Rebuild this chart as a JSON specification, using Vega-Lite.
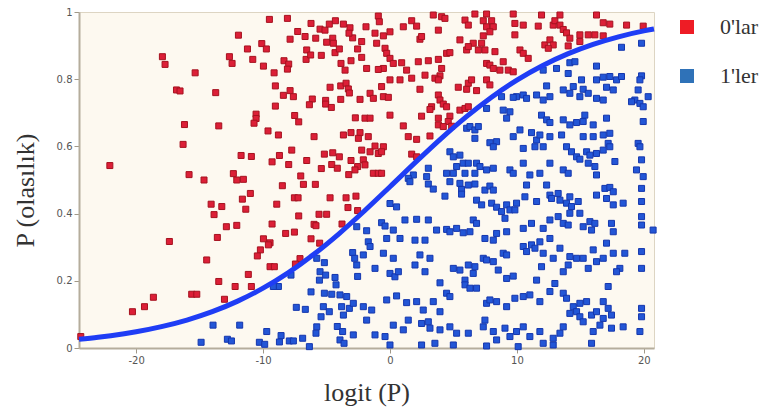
{
"$schema":"https://vega.github.io/schema/vega-lite/v6.json",
"width":575,"height":336,
"autosize":{"type":"none"},
"padding":{"left":79,"top":12,"right":114,"bottom":67},
"background":"#ffffff",
"config":{
"view":{"fill":"#fdf9f0","stroke":"#ddd5c3","strokeWidth":1},
"axis":{"labelFont":"DejaVu Sans","labelFontSize":10,"labelColor":"#555555","tickColor":"#a09888","tickSize":5,"domainColor":"#b5ad9c","domainWidth":2,"grid":false,"titleFont":"Liberation Serif","titleFontSize":26,"titleFontWeight":"normal","titleColor":"#333333","labelPadding":2}
},
"resolve":{"scale":{"fill":"independent","stroke":"independent"},"legend":{"fill":"independent"}},
"datasets":{
"pts":[
{"x":-9.50,"y":0.978,"g":"0'lar"},{"x":-8.08,"y":0.981,"g":"0'lar"},{"x":-6.22,"y":0.966,"g":"0'lar"},{"x":-11.94,"y":0.931,"g":"0'lar"},{"x":-7.27,"y":0.942,"g":"0'lar"},{"x":-6.69,"y":0.927,"g":"0'lar"},{"x":-7.87,"y":0.919,"g":"0'lar"},{"x":-5.85,"y":0.922,"g":"0'lar"},{"x":-5.51,"y":0.949,"g":"0'lar"},{"x":-5.12,"y":0.946,"g":"0'lar"},{"x":-4.78,"y":0.964,"g":"0'lar"},{"x":-4.30,"y":0.974,"g":"0'lar"},{"x":-3.67,"y":0.964,"g":"0'lar"},{"x":-3.15,"y":0.953,"g":"0'lar"},{"x":-2.94,"y":0.923,"g":"0'lar"},{"x":-3.23,"y":0.937,"g":"0'lar"},{"x":-4.51,"y":0.922,"g":"0'lar"},{"x":-4.99,"y":0.910,"g":"0'lar"},{"x":-4.46,"y":0.907,"g":"0'lar"},{"x":-11.23,"y":0.890,"g":"0'lar"},{"x":-10.10,"y":0.906,"g":"0'lar"},{"x":-9.74,"y":0.890,"g":"0'lar"},{"x":-6.56,"y":0.887,"g":"0'lar"},{"x":-6.61,"y":0.859,"g":"0'lar"},{"x":-6.25,"y":0.872,"g":"0'lar"},{"x":-5.41,"y":0.871,"g":"0'lar"},{"x":-4.33,"y":0.879,"g":"0'lar"},{"x":-3.99,"y":0.890,"g":"0'lar"},{"x":-2.55,"y":0.890,"g":"0'lar"},{"x":-3.07,"y":0.855,"g":"0'lar"},{"x":-3.86,"y":0.847,"g":"0'lar"},{"x":-3.54,"y":0.827,"g":"0'lar"},{"x":-17.93,"y":0.867,"g":"0'lar"},{"x":-17.72,"y":0.844,"g":"0'lar"},{"x":-12.65,"y":0.867,"g":"0'lar"},{"x":-12.44,"y":0.847,"g":"0'lar"},{"x":-10.81,"y":0.859,"g":"0'lar"},{"x":-9.97,"y":0.839,"g":"0'lar"},{"x":-9.13,"y":0.819,"g":"0'lar"},{"x":-8.35,"y":0.855,"g":"0'lar"},{"x":-7.98,"y":0.845,"g":"0'lar"},{"x":-8.08,"y":0.830,"g":"0'lar"},{"x":-15.35,"y":0.819,"g":"0'lar"},{"x":-16.82,"y":0.768,"g":"0'lar"},{"x":-16.54,"y":0.765,"g":"0'lar"},{"x":-13.73,"y":0.760,"g":"0'lar"},{"x":-9.03,"y":0.780,"g":"0'lar"},{"x":-7.87,"y":0.766,"g":"0'lar"},{"x":-8.40,"y":0.752,"g":"0'lar"},{"x":-7.61,"y":0.748,"g":"0'lar"},{"x":-6.12,"y":0.741,"g":"0'lar"},{"x":-6.35,"y":0.724,"g":"0'lar"},{"x":-5.07,"y":0.737,"g":"0'lar"},{"x":-5.07,"y":0.726,"g":"0'lar"},{"x":-4.62,"y":0.716,"g":"0'lar"},{"x":-4.72,"y":0.776,"g":"0'lar"},{"x":-3.88,"y":0.780,"g":"0'lar"},{"x":-3.46,"y":0.788,"g":"0'lar"},{"x":-3.28,"y":0.771,"g":"0'lar"},{"x":-3.20,"y":0.759,"g":"0'lar"},{"x":-3.88,"y":0.740,"g":"0'lar"},{"x":-9.03,"y":0.720,"g":"0'lar"},{"x":-10.55,"y":0.696,"g":"0'lar"},{"x":-10.55,"y":0.683,"g":"0'lar"},{"x":-10.71,"y":0.669,"g":"0'lar"},{"x":-7.51,"y":0.692,"g":"0'lar"},{"x":-7.19,"y":0.673,"g":"0'lar"},{"x":-2.73,"y":0.685,"g":"0'lar"},{"x":-16.19,"y":0.665,"g":"0'lar"},{"x":-13.49,"y":0.661,"g":"0'lar"},{"x":-9.61,"y":0.646,"g":"0'lar"},{"x":-8.79,"y":0.634,"g":"0'lar"},{"x":-5.98,"y":0.629,"g":"0'lar"},{"x":-3.67,"y":0.634,"g":"0'lar"},{"x":-3.07,"y":0.641,"g":"0'lar"},{"x":-16.30,"y":0.606,"g":"0'lar"},{"x":-22.07,"y":0.543,"g":"0'lar"},{"x":-11.73,"y":0.573,"g":"0'lar"},{"x":-10.92,"y":0.570,"g":"0'lar"},{"x":-8.71,"y":0.573,"g":"0'lar"},{"x":-7.74,"y":0.589,"g":"0'lar"},{"x":-9.29,"y":0.554,"g":"0'lar"},{"x":-7.98,"y":0.546,"g":"0'lar"},{"x":-6.56,"y":0.558,"g":"0'lar"},{"x":-5.17,"y":0.577,"g":"0'lar"},{"x":-4.51,"y":0.581,"g":"0'lar"},{"x":-3.99,"y":0.569,"g":"0'lar"},{"x":-4.59,"y":0.546,"g":"0'lar"},{"x":-4.15,"y":0.535,"g":"0'lar"},{"x":-5.41,"y":0.534,"g":"0'lar"},{"x":-3.07,"y":0.558,"g":"0'lar"},{"x":-15.83,"y":0.516,"g":"0'lar"},{"x":-14.65,"y":0.500,"g":"0'lar"},{"x":-12.34,"y":0.519,"g":"0'lar"},{"x":-11.55,"y":0.502,"g":"0'lar"},{"x":-7.03,"y":0.512,"g":"0'lar"},{"x":-3.25,"y":0.516,"g":"0'lar"},{"x":-2.55,"y":0.540,"g":"0'lar"},
{"x":-12.07,"y":0.500,"g":"0'lar"},{"x":-8.48,"y":0.483,"g":"0'lar"},{"x":-6.82,"y":0.487,"g":"0'lar"},{"x":-5.88,"y":0.487,"g":"0'lar"},{"x":-11.00,"y":0.460,"g":"0'lar"},{"x":-11.63,"y":0.443,"g":"0'lar"},{"x":-7.53,"y":0.447,"g":"0'lar"},{"x":-7.24,"y":0.447,"g":"0'lar"},{"x":-4.72,"y":0.447,"g":"0'lar"},{"x":-3.46,"y":0.447,"g":"0'lar"},{"x":-2.68,"y":0.452,"g":"0'lar"},{"x":-14.09,"y":0.428,"g":"0'lar"},{"x":-13.25,"y":0.421,"g":"0'lar"},{"x":-13.86,"y":0.397,"g":"0'lar"},{"x":-11.36,"y":0.413,"g":"0'lar"},{"x":-8.92,"y":0.428,"g":"0'lar"},{"x":-7.19,"y":0.393,"g":"0'lar"},{"x":-5.59,"y":0.398,"g":"0'lar"},{"x":-4.99,"y":0.398,"g":"0'lar"},{"x":-3.31,"y":0.418,"g":"0'lar"},{"x":-2.55,"y":0.409,"g":"0'lar"},{"x":-9.29,"y":0.369,"g":"0'lar"},{"x":-5.98,"y":0.368,"g":"0'lar"},{"x":-5.83,"y":0.364,"g":"0'lar"},{"x":-3.78,"y":0.369,"g":"0'lar"},{"x":-12.89,"y":0.361,"g":"0'lar"},{"x":-12.07,"y":0.365,"g":"0'lar"},{"x":-13.60,"y":0.329,"g":"0'lar"},{"x":-8.22,"y":0.341,"g":"0'lar"},{"x":-7.53,"y":0.345,"g":"0'lar"},{"x":-9.97,"y":0.325,"g":"0'lar"},{"x":-9.45,"y":0.313,"g":"0'lar"},{"x":-9.58,"y":0.307,"g":"0'lar"},{"x":-6.22,"y":0.325,"g":"0'lar"},{"x":-5.54,"y":0.312,"g":"0'lar"},{"x":-17.38,"y":0.317,"g":"0'lar"},{"x":-10.21,"y":0.292,"g":"0'lar"},{"x":-10.45,"y":0.274,"g":"0'lar"},{"x":-14.44,"y":0.262,"g":"0'lar"},{"x":-7.09,"y":0.266,"g":"0'lar"},{"x":-7.45,"y":0.250,"g":"0'lar"},{"x":-9.45,"y":0.242,"g":"0'lar"},{"x":-9.11,"y":0.242,"g":"0'lar"},{"x":-11.16,"y":0.219,"g":"0'lar"},{"x":-13.49,"y":0.198,"g":"0'lar"},{"x":-12.20,"y":0.183,"g":"0'lar"},{"x":-10.92,"y":0.183,"g":"0'lar"},{"x":-15.62,"y":0.160,"g":"0'lar"},{"x":-15.22,"y":0.160,"g":"0'lar"},{"x":-18.64,"y":0.151,"g":"0'lar"},{"x":-19.34,"y":0.123,"g":"0'lar"},{"x":-20.29,"y":0.108,"g":"0'lar"},{"x":-13.04,"y":0.145,"g":"0'lar"},{"x":-24.36,"y":0.034,"g":"0'lar"},
{"x":-0.92,"y":0.988,"g":"0'lar"},{"x":-0.84,"y":0.971,"g":"0'lar"},{"x":-1.89,"y":0.956,"g":"0'lar"},{"x":-1.18,"y":0.937,"g":"0'lar"},{"x":-0.52,"y":0.929,"g":"0'lar"},{"x":0.00,"y":0.941,"g":"0'lar"},{"x":1.05,"y":0.956,"g":"0'lar"},{"x":1.71,"y":0.974,"g":"0'lar"},{"x":2.10,"y":0.958,"g":"0'lar"},{"x":2.36,"y":0.919,"g":"0'lar"},{"x":2.49,"y":0.927,"g":"0'lar"},{"x":3.41,"y":0.991,"g":"0'lar"},{"x":4.07,"y":0.986,"g":"0'lar"},{"x":4.33,"y":0.981,"g":"0'lar"},{"x":3.81,"y":0.946,"g":"0'lar"},{"x":5.91,"y":0.976,"g":"0'lar"},{"x":6.17,"y":0.961,"g":"0'lar"},{"x":7.35,"y":0.974,"g":"0'lar"},{"x":7.61,"y":0.956,"g":"0'lar"},{"x":8.01,"y":0.974,"g":"0'lar"},{"x":8.14,"y":0.956,"g":"0'lar"},{"x":7.87,"y":0.941,"g":"0'lar"},{"x":7.35,"y":0.929,"g":"0'lar"},{"x":6.69,"y":0.994,"g":"0'lar"},{"x":7.61,"y":0.994,"g":"0'lar"},{"x":9.71,"y":0.994,"g":"0'lar"},{"x":9.84,"y":0.966,"g":"0'lar"},{"x":10.50,"y":0.961,"g":"0'lar"},{"x":9.84,"y":0.932,"g":"0'lar"},{"x":11.68,"y":0.958,"g":"0'lar"},{"x":11.94,"y":0.991,"g":"0'lar"},{"x":12.86,"y":0.961,"g":"0'lar"},{"x":12.99,"y":0.974,"g":"0'lar"},{"x":13.39,"y":0.961,"g":"0'lar"},{"x":13.65,"y":0.948,"g":"0'lar"},{"x":13.91,"y":0.938,"g":"0'lar"},{"x":14.17,"y":0.922,"g":"0'lar"},{"x":13.39,"y":0.991,"g":"0'lar"},{"x":16.27,"y":0.991,"g":"0'lar"},{"x":16.80,"y":0.968,"g":"0'lar"},{"x":17.32,"y":0.964,"g":"0'lar"},{"x":18.64,"y":0.961,"g":"0'lar"},{"x":19.95,"y":0.958,"g":"0'lar"},{"x":14.96,"y":0.932,"g":"0'lar"},{"x":15.62,"y":0.932,"g":"0'lar"},{"x":16.14,"y":0.932,"g":"0'lar"},{"x":16.80,"y":0.929,"g":"0'lar"},
{"x":-2.23,"y":0.912,"g":"0'lar"},{"x":-1.05,"y":0.907,"g":"0'lar"},{"x":-0.39,"y":0.892,"g":"0'lar"},{"x":-0.26,"y":0.877,"g":"0'lar"},{"x":0.00,"y":0.862,"g":"0'lar"},{"x":0.92,"y":0.849,"g":"0'lar"},{"x":0.26,"y":0.847,"g":"0'lar"},{"x":2.23,"y":0.852,"g":"0'lar"},{"x":3.02,"y":0.855,"g":"0'lar"},{"x":3.81,"y":0.859,"g":"0'lar"},{"x":4.07,"y":0.832,"g":"0'lar"},{"x":2.76,"y":0.812,"g":"0'lar"},{"x":1.31,"y":0.827,"g":"0'lar"},{"x":-0.52,"y":0.832,"g":"0'lar"},{"x":-0.92,"y":0.829,"g":"0'lar"},{"x":-2.23,"y":0.865,"g":"0'lar"},{"x":4.46,"y":0.877,"g":"0'lar"},{"x":4.72,"y":0.879,"g":"0'lar"},{"x":5.51,"y":0.917,"g":"0'lar"},{"x":6.04,"y":0.887,"g":"0'lar"},{"x":6.56,"y":0.907,"g":"0'lar"},{"x":7.22,"y":0.907,"g":"0'lar"},{"x":7.48,"y":0.887,"g":"0'lar"},{"x":8.27,"y":0.882,"g":"0'lar"},{"x":6.96,"y":0.887,"g":"0'lar"},{"x":6.17,"y":0.897,"g":"0'lar"},{"x":10.24,"y":0.887,"g":"0'lar"},{"x":10.50,"y":0.877,"g":"0'lar"},{"x":10.89,"y":0.862,"g":"0'lar"},{"x":12.20,"y":0.902,"g":"0'lar"},{"x":12.60,"y":0.917,"g":"0'lar"},{"x":12.86,"y":0.902,"g":"0'lar"},{"x":12.47,"y":0.892,"g":"0'lar"},{"x":14.04,"y":0.899,"g":"0'lar"},{"x":14.96,"y":0.912,"g":"0'lar"},{"x":7.61,"y":0.847,"g":"0'lar"},{"x":7.87,"y":0.842,"g":"0'lar"},{"x":8.14,"y":0.832,"g":"0'lar"},{"x":8.92,"y":0.852,"g":"0'lar"},{"x":8.66,"y":0.827,"g":"0'lar"},{"x":9.32,"y":0.827,"g":"0'lar"},{"x":9.71,"y":0.822,"g":"0'lar"},{"x":-1.84,"y":0.832,"g":"0'lar"},{"x":3.94,"y":0.810,"g":"0'lar"},
{"x":1.71,"y":0.803,"g":"0'lar"},{"x":3.54,"y":0.803,"g":"0'lar"},{"x":3.81,"y":0.798,"g":"0'lar"},{"x":5.38,"y":0.776,"g":"0'lar"},{"x":6.04,"y":0.770,"g":"0'lar"},{"x":6.17,"y":0.788,"g":"0'lar"},{"x":6.43,"y":0.798,"g":"0'lar"},{"x":6.82,"y":0.766,"g":"0'lar"},{"x":7.61,"y":0.798,"g":"0'lar"},{"x":7.87,"y":0.783,"g":"0'lar"},{"x":0.00,"y":0.798,"g":"0'lar"},{"x":0.79,"y":0.798,"g":"0'lar"},{"x":-0.66,"y":0.778,"g":"0'lar"},{"x":-1.57,"y":0.758,"g":"0'lar"},{"x":-1.31,"y":0.743,"g":"0'lar"},{"x":-0.52,"y":0.748,"g":"0'lar"},{"x":-0.13,"y":0.746,"g":"0'lar"},{"x":-2.36,"y":0.740,"g":"0'lar"},{"x":3.81,"y":0.753,"g":"0'lar"},{"x":3.94,"y":0.738,"g":"0'lar"},{"x":3.28,"y":0.718,"g":"0'lar"},{"x":3.15,"y":0.710,"g":"0'lar"},{"x":4.20,"y":0.726,"g":"0'lar"},{"x":4.46,"y":0.718,"g":"0'lar"},{"x":5.51,"y":0.708,"g":"0'lar"},{"x":5.91,"y":0.713,"g":"0'lar"},{"x":4.72,"y":0.690,"g":"0'lar"},{"x":6.17,"y":0.718,"g":"0'lar"},{"x":2.36,"y":0.770,"g":"0'lar"},{"x":-1.97,"y":0.684,"g":"0'lar"},{"x":-1.57,"y":0.684,"g":"0'lar"},{"x":0.00,"y":0.693,"g":"0'lar"},{"x":2.49,"y":0.690,"g":"0'lar"},{"x":3.81,"y":0.684,"g":"0'lar"},{"x":4.59,"y":0.674,"g":"0'lar"},{"x":3.81,"y":0.664,"g":"0'lar"},{"x":4.20,"y":0.659,"g":"0'lar"},{"x":1.05,"y":0.661,"g":"0'lar"},{"x":-2.36,"y":0.641,"g":"0'lar"},{"x":-1.71,"y":0.629,"g":"0'lar"},{"x":-2.49,"y":0.624,"g":"0'lar"},{"x":4.86,"y":0.660,"g":"0'lar"},{"x":1.44,"y":0.629,"g":"0'lar"},{"x":2.10,"y":0.621,"g":"0'lar"},{"x":3.15,"y":0.631,"g":"0'lar"},{"x":-2.23,"y":0.589,"g":"0'lar"},{"x":-1.18,"y":0.601,"g":"0'lar"},{"x":-1.57,"y":0.584,"g":"0'lar"},{"x":-0.92,"y":0.579,"g":"0'lar"},{"x":-0.52,"y":0.599,"g":"0'lar"},{"x":-0.66,"y":0.584,"g":"0'lar"},{"x":-2.10,"y":0.560,"g":"0'lar"},{"x":-1.97,"y":0.545,"g":"0'lar"},{"x":-2.76,"y":0.530,"g":"0'lar"},{"x":1.71,"y":0.577,"g":"0'lar"},{"x":2.10,"y":0.569,"g":"0'lar"},{"x":-1.31,"y":0.520,"g":"0'lar"},{"x":-0.92,"y":0.520,"g":"0'lar"},{"x":-0.66,"y":0.520,"g":"0'lar"},
{"x":-5.77,"y":0.267,"g":"1'ler"},{"x":-5.17,"y":0.254,"g":"1'ler"},{"x":-8.79,"y":0.183,"g":"1'ler"},{"x":-9.19,"y":0.183,"g":"1'ler"},{"x":-7.80,"y":0.217,"g":"1'ler"},{"x":-5.51,"y":0.227,"g":"1'ler"},{"x":-5.56,"y":0.202,"g":"1'ler"},{"x":-5.07,"y":0.217,"g":"1'ler"},{"x":-4.33,"y":0.210,"g":"1'ler"},{"x":-4.25,"y":0.188,"g":"1'ler"},{"x":-6.22,"y":0.167,"g":"1'ler"},{"x":-5.17,"y":0.163,"g":"1'ler"},{"x":-4.59,"y":0.160,"g":"1'ler"},{"x":-3.94,"y":0.158,"g":"1'ler"},{"x":-3.41,"y":0.153,"g":"1'ler"},{"x":-2.94,"y":0.284,"g":"1'ler"},{"x":-2.78,"y":0.267,"g":"1'ler"},{"x":-2.62,"y":0.247,"g":"1'ler"},{"x":-2.55,"y":0.213,"g":"1'ler"},{"x":-2.62,"y":0.361,"g":"1'ler"},{"x":-7.38,"y":0.121,"g":"1'ler"},{"x":-6.67,"y":0.115,"g":"1'ler"},{"x":-5.25,"y":0.123,"g":"1'ler"},{"x":-4.78,"y":0.108,"g":"1'ler"},{"x":-3.81,"y":0.123,"g":"1'ler"},{"x":-3.67,"y":0.098,"g":"1'ler"},{"x":-3.20,"y":0.118,"g":"1'ler"},{"x":-2.89,"y":0.133,"g":"1'ler"},{"x":-5.43,"y":0.093,"g":"1'ler"},{"x":-5.77,"y":0.063,"g":"1'ler"},{"x":-5.83,"y":0.044,"g":"1'ler"},{"x":-4.15,"y":0.064,"g":"1'ler"},{"x":-3.73,"y":0.049,"g":"1'ler"},{"x":-3.94,"y":0.024,"g":"1'ler"},{"x":-3.62,"y":0.014,"g":"1'ler"},{"x":-2.89,"y":0.039,"g":"1'ler"},{"x":-13.94,"y":0.068,"g":"1'ler"},{"x":-11.84,"y":0.068,"g":"1'ler"},{"x":-9.71,"y":0.049,"g":"1'ler"},{"x":-14.88,"y":0.017,"g":"1'ler"},{"x":-12.81,"y":0.026,"g":"1'ler"},{"x":-12.49,"y":0.021,"g":"1'ler"},{"x":-10.29,"y":0.017,"g":"1'ler"},{"x":-9.87,"y":0.011,"g":"1'ler"},{"x":-8.71,"y":0.018,"g":"1'ler"},{"x":-8.58,"y":0.037,"g":"1'ler"},{"x":-7.93,"y":0.021,"g":"1'ler"},{"x":-7.61,"y":0.021,"g":"1'ler"},{"x":-6.88,"y":0.029,"g":"1'ler"},{"x":-6.35,"y":0.004,"g":"1'ler"},
{"x":18.24,"y":0.895,"g":"1'ler"},{"x":19.82,"y":0.907,"g":"1'ler"},{"x":14.17,"y":0.849,"g":"1'ler"},{"x":14.57,"y":0.852,"g":"1'ler"},{"x":16.27,"y":0.839,"g":"1'ler"},{"x":13.12,"y":0.832,"g":"1'ler"},{"x":14.04,"y":0.817,"g":"1'ler"},{"x":12.07,"y":0.827,"g":"1'ler"},{"x":12.34,"y":0.780,"g":"1'ler"},{"x":11.55,"y":0.753,"g":"1'ler"},{"x":13.65,"y":0.768,"g":"1'ler"},{"x":14.44,"y":0.778,"g":"1'ler"},{"x":15.09,"y":0.798,"g":"1'ler"},{"x":15.22,"y":0.770,"g":"1'ler"},{"x":16.27,"y":0.798,"g":"1'ler"},{"x":16.80,"y":0.806,"g":"1'ler"},{"x":17.32,"y":0.808,"g":"1'ler"},{"x":17.85,"y":0.798,"g":"1'ler"},{"x":18.24,"y":0.808,"g":"1'ler"},{"x":17.59,"y":0.768,"g":"1'ler"},{"x":17.06,"y":0.776,"g":"1'ler"},{"x":16.27,"y":0.743,"g":"1'ler"},{"x":16.80,"y":0.738,"g":"1'ler"},{"x":14.96,"y":0.748,"g":"1'ler"},{"x":15.62,"y":0.758,"g":"1'ler"},{"x":14.17,"y":0.758,"g":"1'ler"},{"x":12.60,"y":0.748,"g":"1'ler"},{"x":12.07,"y":0.738,"g":"1'ler"},{"x":9.97,"y":0.748,"g":"1'ler"},{"x":10.50,"y":0.753,"g":"1'ler"},{"x":10.76,"y":0.743,"g":"1'ler"},{"x":9.71,"y":0.746,"g":"1'ler"},{"x":8.79,"y":0.748,"g":"1'ler"},{"x":19.82,"y":0.810,"g":"1'ler"},{"x":19.69,"y":0.798,"g":"1'ler"},{"x":19.55,"y":0.768,"g":"1'ler"},{"x":19.29,"y":0.738,"g":"1'ler"},{"x":19.69,"y":0.728,"g":"1'ler"},{"x":19.95,"y":0.718,"g":"1'ler"},{"x":20.34,"y":0.748,"g":"1'ler"},{"x":19.03,"y":0.733,"g":"1'ler"},{"x":7.61,"y":0.713,"g":"1'ler"},{"x":8.92,"y":0.708,"g":"1'ler"},{"x":9.45,"y":0.703,"g":"1'ler"},{"x":9.19,"y":0.684,"g":"1'ler"},{"x":11.94,"y":0.693,"g":"1'ler"},{"x":12.34,"y":0.679,"g":"1'ler"},{"x":12.60,"y":0.671,"g":"1'ler"},{"x":13.65,"y":0.679,"g":"1'ler"},{"x":14.17,"y":0.664,"g":"1'ler"},{"x":14.70,"y":0.671,"g":"1'ler"},{"x":15.22,"y":0.674,"g":"1'ler"},{"x":15.35,"y":0.693,"g":"1'ler"},{"x":16.01,"y":0.664,"g":"1'ler"},{"x":17.06,"y":0.684,"g":"1'ler"},{"x":19.95,"y":0.674,"g":"1'ler"},{"x":6.04,"y":0.654,"g":"1'ler"},{"x":6.30,"y":0.659,"g":"1'ler"},{"x":6.69,"y":0.649,"g":"1'ler"},{"x":6.69,"y":0.624,"g":"1'ler"},{"x":6.96,"y":0.659,"g":"1'ler"},{"x":7.87,"y":0.611,"g":"1'ler"},{"x":8.40,"y":0.614,"g":"1'ler"},{"x":8.14,"y":0.599,"g":"1'ler"},{"x":9.71,"y":0.629,"g":"1'ler"},{"x":10.24,"y":0.649,"g":"1'ler"},{"x":11.15,"y":0.641,"g":"1'ler"},{"x":11.55,"y":0.619,"g":"1'ler"},{"x":11.81,"y":0.634,"g":"1'ler"},{"x":12.07,"y":0.599,"g":"1'ler"},{"x":11.42,"y":0.599,"g":"1'ler"},{"x":10.50,"y":0.594,"g":"1'ler"},{"x":12.60,"y":0.629,"g":"1'ler"},{"x":13.52,"y":0.634,"g":"1'ler"},{"x":13.91,"y":0.599,"g":"1'ler"},{"x":14.30,"y":0.584,"g":"1'ler"},{"x":14.70,"y":0.569,"g":"1'ler"},{"x":14.96,"y":0.562,"g":"1'ler"},{"x":15.49,"y":0.584,"g":"1'ler"},{"x":15.22,"y":0.629,"g":"1'ler"},{"x":16.01,"y":0.629,"g":"1'ler"},{"x":16.80,"y":0.634,"g":"1'ler"},{"x":17.32,"y":0.639,"g":"1'ler"},{"x":17.19,"y":0.609,"g":"1'ler"},{"x":16.80,"y":0.589,"g":"1'ler"},{"x":16.27,"y":0.579,"g":"1'ler"},{"x":15.75,"y":0.574,"g":"1'ler"},{"x":17.32,"y":0.599,"g":"1'ler"},{"x":19.55,"y":0.609,"g":"1'ler"},{"x":19.69,"y":0.599,"g":"1'ler"},{"x":19.82,"y":0.560,"g":"1'ler"},{"x":4.72,"y":0.584,"g":"1'ler"},{"x":4.99,"y":0.569,"g":"1'ler"},{"x":5.51,"y":0.574,"g":"1'ler"},{"x":5.77,"y":0.550,"g":"1'ler"},{"x":5.25,"y":0.540,"g":"1'ler"},{"x":6.17,"y":0.550,"g":"1'ler"},{"x":6.82,"y":0.550,"g":"1'ler"},{"x":7.09,"y":0.540,"g":"1'ler"},{"x":7.61,"y":0.530,"g":"1'ler"},{"x":8.14,"y":0.535,"g":"1'ler"},{"x":6.69,"y":0.520,"g":"1'ler"},{"x":5.91,"y":0.520,"g":"1'ler"},{"x":4.99,"y":0.520,"g":"1'ler"},{"x":4.46,"y":0.520,"g":"1'ler"},{"x":3.02,"y":0.535,"g":"1'ler"},{"x":2.89,"y":0.510,"g":"1'ler"},{"x":1.84,"y":0.515,"g":"1'ler"},{"x":9.45,"y":0.530,"g":"1'ler"},{"x":9.71,"y":0.520,"g":"1'ler"},{"x":10.50,"y":0.550,"g":"1'ler"},{"x":11.02,"y":0.515,"g":"1'ler"},{"x":11.81,"y":0.520,"g":"1'ler"},{"x":12.60,"y":0.550,"g":"1'ler"},{"x":13.65,"y":0.530,"g":"1'ler"},{"x":14.04,"y":0.520,"g":"1'ler"},{"x":15.62,"y":0.550,"g":"1'ler"},{"x":16.14,"y":0.540,"g":"1'ler"},{"x":16.27,"y":0.515,"g":"1'ler"},{"x":17.72,"y":0.555,"g":"1'ler"},{"x":19.42,"y":0.530,"g":"1'ler"},{"x":19.95,"y":0.510,"g":"1'ler"},{"x":1.44,"y":0.505,"g":"1'ler"},
{"x":1.57,"y":0.495,"g":"1'ler"},{"x":3.02,"y":0.488,"g":"1'ler"},{"x":3.41,"y":0.473,"g":"1'ler"},{"x":4.33,"y":0.452,"g":"1'ler"},{"x":4.72,"y":0.495,"g":"1'ler"},{"x":5.51,"y":0.490,"g":"1'ler"},{"x":5.64,"y":0.472,"g":"1'ler"},{"x":5.64,"y":0.458,"g":"1'ler"},{"x":6.17,"y":0.485,"g":"1'ler"},{"x":6.69,"y":0.488,"g":"1'ler"},{"x":6.82,"y":0.440,"g":"1'ler"},{"x":7.22,"y":0.426,"g":"1'ler"},{"x":7.48,"y":0.470,"g":"1'ler"},{"x":7.87,"y":0.482,"g":"1'ler"},{"x":8.14,"y":0.470,"g":"1'ler"},{"x":8.01,"y":0.431,"g":"1'ler"},{"x":8.40,"y":0.419,"g":"1'ler"},{"x":8.79,"y":0.406,"g":"1'ler"},{"x":9.19,"y":0.426,"g":"1'ler"},{"x":9.45,"y":0.411,"g":"1'ler"},{"x":9.84,"y":0.411,"g":"1'ler"},{"x":9.97,"y":0.431,"g":"1'ler"},{"x":10.63,"y":0.450,"g":"1'ler"},{"x":10.76,"y":0.485,"g":"1'ler"},{"x":11.55,"y":0.436,"g":"1'ler"},{"x":12.34,"y":0.485,"g":"1'ler"},{"x":12.60,"y":0.455,"g":"1'ler"},{"x":12.73,"y":0.445,"g":"1'ler"},{"x":13.25,"y":0.460,"g":"1'ler"},{"x":13.39,"y":0.440,"g":"1'ler"},{"x":13.91,"y":0.431,"g":"1'ler"},{"x":14.17,"y":0.450,"g":"1'ler"},{"x":14.30,"y":0.421,"g":"1'ler"},{"x":14.17,"y":0.401,"g":"1'ler"},{"x":14.96,"y":0.401,"g":"1'ler"},{"x":14.83,"y":0.436,"g":"1'ler"},{"x":16.27,"y":0.455,"g":"1'ler"},{"x":16.93,"y":0.475,"g":"1'ler"},{"x":17.32,"y":0.478,"g":"1'ler"},{"x":17.59,"y":0.465,"g":"1'ler"},{"x":17.06,"y":0.445,"g":"1'ler"},{"x":17.59,"y":0.426,"g":"1'ler"},{"x":18.37,"y":0.431,"g":"1'ler"},{"x":19.82,"y":0.475,"g":"1'ler"},{"x":19.82,"y":0.436,"g":"1'ler"},{"x":19.82,"y":0.391,"g":"1'ler"},{"x":19.82,"y":0.366,"g":"1'ler"},{"x":20.73,"y":0.351,"g":"1'ler"},{"x":0.00,"y":0.430,"g":"1'ler"},{"x":0.52,"y":0.420,"g":"1'ler"},
{"x":-1.84,"y":0.349,"g":"1'ler"},{"x":-0.66,"y":0.373,"g":"1'ler"},{"x":-0.39,"y":0.363,"g":"1'ler"},{"x":0.26,"y":0.351,"g":"1'ler"},{"x":1.18,"y":0.381,"g":"1'ler"},{"x":2.10,"y":0.383,"g":"1'ler"},{"x":3.02,"y":0.381,"g":"1'ler"},{"x":3.67,"y":0.351,"g":"1'ler"},{"x":4.46,"y":0.353,"g":"1'ler"},{"x":4.72,"y":0.346,"g":"1'ler"},{"x":5.25,"y":0.356,"g":"1'ler"},{"x":5.77,"y":0.343,"g":"1'ler"},{"x":6.30,"y":0.346,"g":"1'ler"},{"x":6.56,"y":0.381,"g":"1'ler"},{"x":6.82,"y":0.371,"g":"1'ler"},{"x":7.48,"y":0.326,"g":"1'ler"},{"x":8.14,"y":0.321,"g":"1'ler"},{"x":8.40,"y":0.341,"g":"1'ler"},{"x":9.19,"y":0.346,"g":"1'ler"},{"x":9.06,"y":0.386,"g":"1'ler"},{"x":10.50,"y":0.356,"g":"1'ler"},{"x":11.15,"y":0.371,"g":"1'ler"},{"x":12.07,"y":0.356,"g":"1'ler"},{"x":12.60,"y":0.381,"g":"1'ler"},{"x":13.25,"y":0.391,"g":"1'ler"},{"x":13.65,"y":0.371,"g":"1'ler"},{"x":14.04,"y":0.366,"g":"1'ler"},{"x":15.22,"y":0.361,"g":"1'ler"},{"x":15.75,"y":0.376,"g":"1'ler"},{"x":15.88,"y":0.351,"g":"1'ler"},{"x":16.14,"y":0.371,"g":"1'ler"},{"x":17.45,"y":0.371,"g":"1'ler"},{"x":17.59,"y":0.346,"g":"1'ler"},
{"x":-1.71,"y":0.316,"g":"1'ler"},{"x":-1.57,"y":0.302,"g":"1'ler"},{"x":-0.26,"y":0.326,"g":"1'ler"},{"x":0.79,"y":0.326,"g":"1'ler"},{"x":1.97,"y":0.321,"g":"1'ler"},{"x":2.76,"y":0.321,"g":"1'ler"},{"x":3.15,"y":0.267,"g":"1'ler"},{"x":2.36,"y":0.277,"g":"1'ler"},{"x":-0.52,"y":0.282,"g":"1'ler"},{"x":0.26,"y":0.267,"g":"1'ler"},{"x":-2.10,"y":0.277,"g":"1'ler"},{"x":-1.18,"y":0.237,"g":"1'ler"},{"x":0.00,"y":0.222,"g":"1'ler"},{"x":0.39,"y":0.212,"g":"1'ler"},{"x":0.66,"y":0.227,"g":"1'ler"},{"x":1.97,"y":0.247,"g":"1'ler"},{"x":2.76,"y":0.227,"g":"1'ler"},{"x":3.94,"y":0.194,"g":"1'ler"},{"x":4.99,"y":0.237,"g":"1'ler"},{"x":5.51,"y":0.232,"g":"1'ler"},{"x":5.91,"y":0.202,"g":"1'ler"},{"x":6.17,"y":0.247,"g":"1'ler"},{"x":6.69,"y":0.242,"g":"1'ler"},{"x":6.56,"y":0.222,"g":"1'ler"},{"x":7.35,"y":0.267,"g":"1'ler"},{"x":7.61,"y":0.262,"g":"1'ler"},{"x":8.14,"y":0.257,"g":"1'ler"},{"x":8.53,"y":0.232,"g":"1'ler"},{"x":8.92,"y":0.282,"g":"1'ler"},{"x":9.19,"y":0.207,"g":"1'ler"},{"x":9.71,"y":0.214,"g":"1'ler"},{"x":9.19,"y":0.277,"g":"1'ler"},{"x":10.50,"y":0.302,"g":"1'ler"},{"x":10.76,"y":0.287,"g":"1'ler"},{"x":11.15,"y":0.307,"g":"1'ler"},{"x":11.42,"y":0.297,"g":"1'ler"},{"x":11.81,"y":0.316,"g":"1'ler"},{"x":12.07,"y":0.282,"g":"1'ler"},{"x":11.94,"y":0.242,"g":"1'ler"},{"x":11.55,"y":0.202,"g":"1'ler"},{"x":12.60,"y":0.326,"g":"1'ler"},{"x":13.39,"y":0.297,"g":"1'ler"},{"x":12.86,"y":0.267,"g":"1'ler"},{"x":13.65,"y":0.227,"g":"1'ler"},{"x":14.04,"y":0.247,"g":"1'ler"},{"x":14.17,"y":0.272,"g":"1'ler"},{"x":14.70,"y":0.267,"g":"1'ler"},{"x":15.22,"y":0.267,"g":"1'ler"},{"x":15.62,"y":0.237,"g":"1'ler"},{"x":16.01,"y":0.292,"g":"1'ler"},{"x":16.27,"y":0.257,"g":"1'ler"},{"x":16.80,"y":0.267,"g":"1'ler"},{"x":17.06,"y":0.312,"g":"1'ler"},{"x":17.59,"y":0.282,"g":"1'ler"},{"x":18.11,"y":0.237,"g":"1'ler"},{"x":17.85,"y":0.227,"g":"1'ler"},{"x":18.50,"y":0.282,"g":"1'ler"},{"x":19.82,"y":0.287,"g":"1'ler"},{"x":19.82,"y":0.237,"g":"1'ler"},
{"x":-2.10,"y":0.123,"g":"1'ler"},{"x":-1.44,"y":0.113,"g":"1'ler"},{"x":-0.26,"y":0.143,"g":"1'ler"},{"x":0.52,"y":0.155,"g":"1'ler"},{"x":1.31,"y":0.135,"g":"1'ler"},{"x":2.10,"y":0.138,"g":"1'ler"},{"x":2.62,"y":0.113,"g":"1'ler"},{"x":3.41,"y":0.138,"g":"1'ler"},{"x":3.94,"y":0.108,"g":"1'ler"},{"x":4.46,"y":0.163,"g":"1'ler"},{"x":4.72,"y":0.153,"g":"1'ler"},{"x":5.91,"y":0.188,"g":"1'ler"},{"x":6.30,"y":0.178,"g":"1'ler"},{"x":6.82,"y":0.178,"g":"1'ler"},{"x":7.61,"y":0.133,"g":"1'ler"},{"x":7.87,"y":0.143,"g":"1'ler"},{"x":8.40,"y":0.138,"g":"1'ler"},{"x":9.19,"y":0.123,"g":"1'ler"},{"x":9.84,"y":0.148,"g":"1'ler"},{"x":10.50,"y":0.153,"g":"1'ler"},{"x":11.02,"y":0.158,"g":"1'ler"},{"x":11.81,"y":0.138,"g":"1'ler"},{"x":12.60,"y":0.168,"g":"1'ler"},{"x":12.99,"y":0.192,"g":"1'ler"},{"x":13.65,"y":0.163,"g":"1'ler"},{"x":13.91,"y":0.148,"g":"1'ler"},{"x":14.44,"y":0.123,"g":"1'ler"},{"x":14.96,"y":0.133,"g":"1'ler"},{"x":15.49,"y":0.138,"g":"1'ler"},{"x":15.88,"y":0.098,"g":"1'ler"},{"x":16.27,"y":0.108,"g":"1'ler"},{"x":16.80,"y":0.138,"g":"1'ler"},{"x":17.19,"y":0.118,"g":"1'ler"},{"x":17.19,"y":0.183,"g":"1'ler"},{"x":17.45,"y":0.098,"g":"1'ler"},{"x":18.37,"y":0.063,"g":"1'ler"},{"x":19.82,"y":0.118,"g":"1'ler"},{"x":19.82,"y":0.093,"g":"1'ler"},{"x":19.69,"y":0.049,"g":"1'ler"},
{"x":-1.84,"y":0.083,"g":"1'ler"},{"x":-1.18,"y":0.039,"g":"1'ler"},{"x":-0.39,"y":0.034,"g":"1'ler"},{"x":0.26,"y":0.068,"g":"1'ler"},{"x":1.05,"y":0.054,"g":"1'ler"},{"x":1.44,"y":0.083,"g":"1'ler"},{"x":2.49,"y":0.073,"g":"1'ler"},{"x":3.02,"y":0.078,"g":"1'ler"},{"x":3.15,"y":0.059,"g":"1'ler"},{"x":3.54,"y":0.014,"g":"1'ler"},{"x":3.94,"y":0.054,"g":"1'ler"},{"x":4.72,"y":0.063,"g":"1'ler"},{"x":5.25,"y":0.044,"g":"1'ler"},{"x":6.17,"y":0.044,"g":"1'ler"},{"x":7.35,"y":0.063,"g":"1'ler"},{"x":7.48,"y":0.083,"g":"1'ler"},{"x":8.14,"y":0.049,"g":"1'ler"},{"x":8.40,"y":0.024,"g":"1'ler"},{"x":9.06,"y":0.059,"g":"1'ler"},{"x":9.45,"y":0.034,"g":"1'ler"},{"x":9.97,"y":0.049,"g":"1'ler"},{"x":10.50,"y":0.063,"g":"1'ler"},{"x":11.02,"y":0.034,"g":"1'ler"},{"x":11.81,"y":0.049,"g":"1'ler"},{"x":12.07,"y":0.014,"g":"1'ler"},{"x":12.86,"y":0.029,"g":"1'ler"},{"x":13.39,"y":0.044,"g":"1'ler"},{"x":13.65,"y":0.063,"g":"1'ler"},{"x":14.17,"y":0.103,"g":"1'ler"},{"x":14.70,"y":0.108,"g":"1'ler"},{"x":14.96,"y":0.093,"g":"1'ler"},{"x":15.22,"y":0.078,"g":"1'ler"},{"x":16.01,"y":0.049,"g":"1'ler"},{"x":16.54,"y":0.068,"g":"1'ler"},{"x":16.80,"y":0.088,"g":"1'ler"},{"x":17.45,"y":0.059,"g":"1'ler"},{"x":0.00,"y":0.009,"g":"1'ler"},{"x":2.49,"y":0.009,"g":"1'ler"},{"x":4.99,"y":0.009,"g":"1'ler"},{"x":7.61,"y":0.006,"g":"1'ler"},{"x":10.10,"y":0.004,"g":"1'ler"},{"x":12.86,"y":0.009,"g":"1'ler"},{"x":15.88,"y":0.014,"g":"1'ler"}
],
"curve":[
{"x":-24.5,"p":0.0258},{"x":-23,"p":0.0318},{"x":-22,"p":0.0366},{"x":-20,"p":0.0483},{"x":-18,"p":0.0636},{"x":-16,"p":0.0832},{"x":-14,"p":0.1081},{"x":-12,"p":0.1395},{"x":-10,"p":0.178},{"x":-8,"p":0.2244},{"x":-6,"p":0.2789},{"x":-4,"p":0.3407},{"x":-2,"p":0.4085},{"x":0,"p":0.480},{"x":2,"p":0.5523},{"x":4,"p":0.6225},{"x":6,"p":0.6879},{"x":8,"p":0.7465},{"x":10,"p":0.7974},{"x":12,"p":0.8403},{"x":14,"p":0.8754},{"x":16,"p":0.9038},{"x":18,"p":0.9262},{"x":20,"p":0.9437},{"x":20.8,"p":0.9496}
]
},
"layer":[
{"data":{"name":"pts"},
"mark":{"type":"point","shape":"square","filled":true,"size":36,"strokeWidth":1,"opacity":1},
"encoding":{
"x":{"field":"x","type":"quantitative","scale":{"domain":[-24.5,20.8],"nice":false,"zero":false},"axis":{"values":[-20,-10,0,10,20],"labelExpr":"'' + datum.value","title":"logit (P)","titlePadding":14}},
"y":{"field":"y","type":"quantitative","scale":{"domain":[0,1],"nice":false},"axis":{"values":[0,0.2,0.4,0.6,0.8,1],"format":".1~f","title":"P (olasılık)","titlePadding":18,"titleY":178}},
"fill":{"field":"g","type":"nominal","scale":{"domain":["0'lar","1'ler"],"range":["#dc1f37","#2356d6"]},"legend":null},
"stroke":{"field":"g","type":"nominal","scale":{"domain":["0'lar","1'ler"],"range":["#a5121f","#1436ad"]},"legend":null}
}},
{"data":{"name":"curve"},
"mark":{"type":"line","color":"#1f3df5","strokeWidth":5,"interpolate":"monotone"},
"encoding":{"x":{"field":"x","type":"quantitative"},"y":{"field":"p","type":"quantitative"}}},
{"data":{"name":"pts"},
"transform":[{"filter":"false"}],
"mark":{"type":"square","size":196,"opacity":1},
"encoding":{
"x":{"field":"x","type":"quantitative"},
"y":{"field":"y","type":"quantitative"},
"fill":{"field":"g","type":"nominal","scale":{"domain":["0'lar","1'ler"],"range":["#ee1c25","#2f72b8"]},
"legend":{"title":null,"orient":"right","offset":18,"padding":4,"symbolType":"square","symbolSize":196,"symbolStrokeWidth":0,"symbolOpacity":1,"labelFont":"Liberation Serif","labelFontSize":22,"labelColor":"#333333","labelOffset":22,"rowPadding":27}}
}}
]
}
